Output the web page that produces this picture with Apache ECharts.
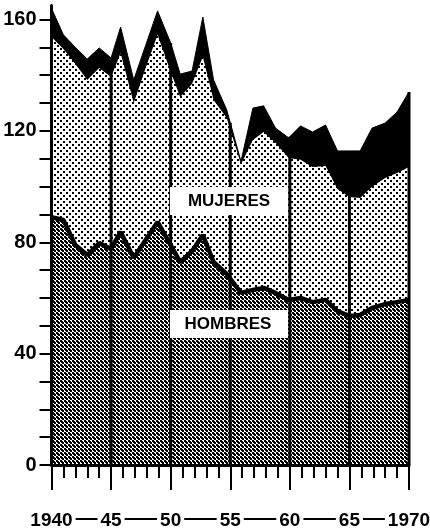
<!DOCTYPE html>
<html>
<head>
<meta charset="utf-8">
<script src="https://cdn.jsdelivr.net/npm/echarts@6/dist/echarts.min.js"></script>
<style>
html,body{margin:0;padding:0;background:#fff}
#chart{width:430px;height:529px}
</style>
</head>
<body>
<div id="chart"></div>
<script>
// años (algunos puntos no caen justo en el año)
var anios = [1940, 1941, 1942, 1943, 1944, 1945, 1945.8, 1946.9, 1947.9, 1948.9, 1950,
  1950.8, 1951.8, 1952.7, 1953.6, 1954.7, 1955.9, 1956.9, 1957.8, 1958.8, 1959.9,
  1960.9, 1961.9, 1963, 1964, 1965, 1965.9, 1966.9, 1968, 1969, 1970];
var hombres = [89, 88, 79, 75.4, 79.7, 77.6, 83.7, 74.4, 80.8, 87.3, 79,
  72.9, 76.9, 82.6, 72.9, 68.6, 61.8, 62.9, 63.6, 61.8, 59.3,
  60, 58.5, 59.3, 55.3, 53.5, 53.9, 56.4, 57.8, 58.5, 59.3];
var mujeres = [64.7, 61.4, 65, 62.9, 62.9, 61.8, 64.3, 55.6, 61.8, 67.2, 62.2,
  59.3, 60, 64, 58.2, 56, 46.2, 53.8, 56, 53.9, 51,
  49.6, 48.5, 48.1, 43.8, 42.8, 42, 43.5, 45.3, 46.4, 47.7];
var otros = [10.3, 5.1, 6, 7.5, 7.2, 6.8, 9.3, 8.3, 8.1, 8.6, 10.4,
  8.2, 4.6, 14.3, 7.2, 3, 1, 11.5, 9.4, 5.3, 7.2,
  12.2, 12.6, 14.7, 13.7, 16.5, 16.9, 21.1, 19.7, 21.9, 27];

var marcasY = [0, 10, 20, 30, 40, 50, 60, 70, 80, 90, 100, 110, 120, 130, 140, 150, 160];
var etiquetasY = [0, 40, 80, 120, 160];
var aniosX = [1940, 1945, 1950, 1955, 1960, 1965, 1970];
var etiquetasX = ['1940', '45', '50', '55', '60', '65', '1970'];
var lineasAnio = [1945, 1950, 1955, 1960, 1965, 1970];

var fuente = '"Liberation Sans", Arial, sans-serif';
var tamX = 19;
var grid = { left: 51.5, right: 21, top: 5.6, bottom: 64 };

// acumulados: hombres, hombres+mujeres, total
var sumaHM = hombres.map(function (h, i) { return h + mujeres[i]; });
var total = sumaHM.map(function (s, i) { return s + otros[i]; });

function pares(vals) {
  return vals.map(function (v, i) { return [anios[i], v]; });
}

// total interpolado para las rayas verticales
function totalEn(a) {
  for (var i = 0; i < anios.length - 1; i++) {
    if (a >= anios[i] && a <= anios[i + 1]) {
      var f = (a - anios[i]) / (anios[i + 1] - anios[i]);
      return total[i] + f * (total[i + 1] - total[i]);
    }
  }
  return total[total.length - 1];
}

// tramas de puntos
function trama(tam, puntos, lado) {
  var c = document.createElement('canvas');
  c.width = tam; c.height = tam;
  var ctx = c.getContext('2d');
  ctx.fillStyle = '#fff';
  ctx.fillRect(0, 0, tam, tam);
  ctx.fillStyle = '#000';
  puntos.forEach(function (p) { ctx.fillRect(p[0], p[1], lado, lado); });
  return c;
}
var tramaOscura = trama(4, [[0, 0], [2, 2], [1, 1]], 2);
var tramaClara = trama(6, [[0, 0], [3, 3]], 2);

// rayas entre los años del eje (posición según la escala del grid)
var medidor = document.createElement('canvas').getContext('2d');
medidor.font = 'bold ' + tamX + 'px ' + fuente;
function xPix(a) {
  return grid.left + (a - 1940) / 30 * (430 - grid.left - grid.right);
}
var rayas = [];
for (var i = 0; i < aniosX.length - 1; i++) {
  var x1 = xPix(aniosX[i]) + medidor.measureText(etiquetasX[i]).width / 2 + 3;
  var x2 = xPix(aniosX[i + 1]) - medidor.measureText(etiquetasX[i + 1]).width / 2 - 3;
  rayas.push({ type: 'line', z: 100, shape: { x1: x1, y1: 519, x2: x2, y2: 519 },
    style: { stroke: '#000', lineWidth: 2 } });
}

var myChart = echarts.init(document.getElementById('chart'));
var option = {
  animation: false,
  backgroundColor: '#fff',
  grid: { left: grid.left, right: grid.right, top: grid.top, bottom: grid.bottom, outerBoundsMode: 'none' },
  xAxis: {
    type: 'value',
    min: 1940, max: 1970, interval: 5,
    z: 10,
    axisLine: { show: true, lineStyle: { color: '#000', width: 3 } },
    axisTick: { show: true, length: 25, lineStyle: { color: '#000', width: 2 } },
    minorTick: { show: true, splitNumber: 5, length: 13, lineStyle: { color: '#000', width: 2 } },
    splitLine: { show: false },
    axisLabel: {
      margin: 46,
      color: '#000', fontWeight: 'bold', fontSize: tamX, fontFamily: fuente,
      formatter: function (v) { return etiquetasX[aniosX.indexOf(Math.round(v))]; }
    }
  },
  yAxis: {
    type: 'value',
    min: 0, max: 165,
    z: 10,
    axisLine: { show: true, lineStyle: { color: '#000', width: 3 } },
    axisTick: { show: true, customValues: marcasY, length: 12, lineStyle: { color: '#000', width: 2 } },
    splitLine: { show: false },
    axisLabel: {
      customValues: etiquetasY,
      margin: 15,
      color: '#000', fontWeight: 'bold', fontSize: 20, fontFamily: fuente
    }
  },
  series: [{
    name: 'total',
    type: 'line',
    z: 1,
    symbol: 'none',
    data: pares(total),
    lineStyle: { color: '#000', width: 1 },
    areaStyle: { color: '#000', opacity: 1 }
  }, {
    name: 'MUJERES',
    type: 'line',
    z: 2,
    symbol: 'none',
    data: pares(sumaHM),
    lineStyle: { width: 0 },
    areaStyle: { color: { image: tramaClara, repeat: 'repeat' }, opacity: 1 }
  }, {
    name: 'HOMBRES',
    type: 'line',
    z: 3,
    symbol: 'none',
    data: pares(hombres),
    lineStyle: { color: '#000', width: 4.5 },
    areaStyle: { color: { image: tramaOscura, repeat: 'repeat' }, opacity: 1 }
  }, {
    type: 'bar',
    z: 5,
    barWidth: 3,
    itemStyle: { color: '#000' },
    data: lineasAnio.map(function (a) { return [a, totalEn(a)]; })
  }],
  graphic: [
    { type: 'rect', z: 100, shape: { x: 170, y: 187, width: 118, height: 28 }, style: { fill: '#fff' } },
    { type: 'text', z: 101, x: 229, y: 201,
      style: { text: 'MUJERES', fill: '#000', font: 'bold 17px ' + fuente,
        align: 'center', verticalAlign: 'middle', textAlign: 'center', textVerticalAlign: 'middle' } },
    { type: 'rect', z: 100, shape: { x: 170, y: 310, width: 118, height: 28 }, style: { fill: '#fff' } },
    { type: 'text', z: 101, x: 228, y: 324,
      style: { text: 'HOMBRES', fill: '#000', font: 'bold 17px ' + fuente,
        align: 'center', verticalAlign: 'middle', textAlign: 'center', textVerticalAlign: 'middle' } }
  ].concat(rayas)
};
myChart.setOption(option);
window.addEventListener('resize', function () { myChart.resize(); });
</script>
</body>
</html>
